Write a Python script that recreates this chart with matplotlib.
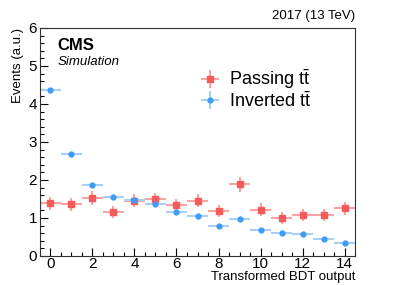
import numpy as np
import matplotlib.pyplot as plt
from matplotlib.ticker import MultipleLocator

plt.rcParams['font.family'] = ['Liberation Sans', 'DejaVu Sans']
plt.rcParams['mathtext.fontset'] = 'custom'
plt.rcParams['mathtext.rm'] = 'Liberation Sans'
plt.rcParams['mathtext.it'] = 'Liberation Sans:italic'

bins = np.arange(15)
passing = [1.39, 1.36, 1.53, 1.16, 1.45, 1.49, 1.34, 1.45, 1.19, 1.88, 1.22, 1.00, 1.08, 1.08, 1.26]
passing_err = [0.17, 0.17, 0.18, 0.16, 0.17, 0.17, 0.17, 0.17, 0.16, 0.21, 0.16, 0.15, 0.16, 0.16, 0.17]
inverted = [4.37, 2.68, 1.87, 1.54, 1.47, 1.37, 1.15, 1.04, 0.80, 0.97, 0.67, 0.61, 0.57, 0.44, 0.35]
inverted_err = [0.03, 0.02, 0.02, 0.02, 0.02, 0.02, 0.02, 0.02, 0.01, 0.02, 0.01, 0.01, 0.01, 0.01, 0.01]

fig = plt.figure(figsize=(3.95, 2.85), dpi=100)
ax = fig.add_axes([0.101, 0.102, 0.798, 0.800])

ax.errorbar(bins, passing, xerr=0.5, yerr=passing_err, fmt='s', color='#f65a5a',
            ecolor='#f9a3a3', elinewidth=1.5, markersize=4, label=r'Passing t$\bar{\rm t}$')
ax.errorbar(bins, inverted, xerr=0.5, yerr=inverted_err, fmt='o', color='#3f9cf5',
            ecolor='#a6d0fa', elinewidth=1.5, markersize=3.5, label=r'Inverted t$\bar{\rm t}$')

ax.set_xlim(-0.5, 14.5)
ax.set_ylim(0, 6)
ax.xaxis.set_major_locator(MultipleLocator(2))
ax.xaxis.set_minor_locator(MultipleLocator(0.5))
ax.yaxis.set_major_locator(MultipleLocator(1))
ax.yaxis.set_minor_locator(MultipleLocator(0.2))
ax.tick_params(which='both', direction='in', labelsize=11, top=False, right=False)
ax.tick_params(axis='x', pad=1)
ax.tick_params(axis='y', pad=2)
ax.tick_params(which='major', length=6, width=0.8)
ax.tick_params(which='minor', length=3, width=0.8)
for s in ax.spines.values():
    s.set_color('#333333')
    s.set_linewidth(0.8)

ax.set_xlabel('Transformed BDT output', fontsize=9.5, loc='right', labelpad=0)
ax.set_ylabel('Events (a.u.)', fontsize=9.5, loc='top', labelpad=3)

ax.text(0.055, 0.955, 'CMS', transform=ax.transAxes, fontsize=12, fontweight='bold', va='top')
ax.text(0.055, 0.875, 'Simulation', transform=ax.transAxes, fontsize=9.5, style='italic', va='top')
ax.text(1.0, 1.025, '2017 (13 TeV)', transform=ax.transAxes, fontsize=9.5, ha='right', va='bottom')

ax.legend(loc='upper left', bbox_to_anchor=(0.475, 0.865), frameon=False, fontsize=13,
          handlelength=1.3, handletextpad=0.4, labelspacing=0.0, borderpad=0)

plt.savefig('out.png', dpi=100)
